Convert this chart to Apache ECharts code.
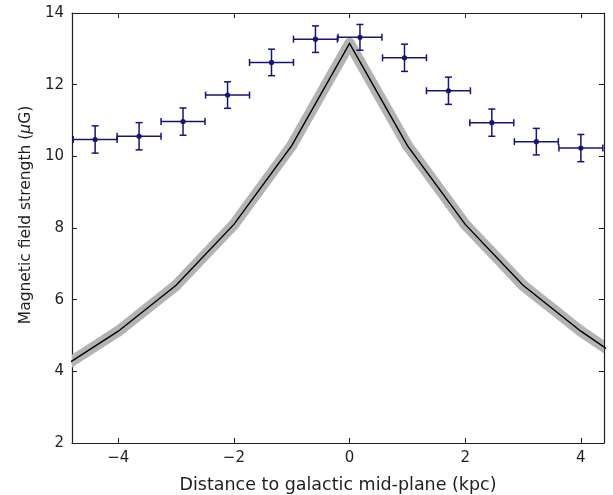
<!DOCTYPE html>
<html>
<head>
<meta charset="utf-8">
<script src="https://cdn.jsdelivr.net/npm/echarts@6/dist/echarts.min.js"></script>
<style>
html,body{margin:0;padding:0;background:#fff;}
#chart{width:613px;height:495px;}
</style>
</head>
<body>
<div id="chart"></div>
<script>
// Observations (blue error-bar points)
const obsX = [-4.40, -3.64, -2.88, -2.11, -1.35, -0.59, 0.18, 0.95, 1.71, 2.46, 3.23, 4.00];
const obsY = [10.47, 10.56, 10.97, 11.71, 12.62, 13.27, 13.32, 12.75, 11.83, 10.94, 10.41, 10.23];
const obsXErr = [0.38, 0.38, 0.38, 0.38, 0.38, 0.38, 0.38, 0.38, 0.38, 0.38, 0.38, 0.38];
const obsYErr = [0.38, 0.38, 0.38, 0.37, 0.37, 0.37, 0.36, 0.38, 0.38, 0.38, 0.37, 0.38];
// Model curve (black line with grey band)
const modelX = [-5, -4, -3, -2, -1, 0, 1, 2, 3, 4, 5];
const modelY = [4.08, 5.12, 6.40, 8.10, 10.30, 13.15, 10.30, 8.10, 6.40, 5.12, 4.02];
// Tick labels
const xTicks = [-4, -2, 0, 2, 4];
const yTicks = [2, 4, 6, 8, 10, 12, 14];

const FONT = 'DejaVu Sans';
const AXC = '#1e1e1e';
const ERRC = '#14147a';

const modelData = modelX.map((x, i) => [x, modelY[i]]);
const obsData = obsX.map((x, i) => [x, obsY[i], obsXErr[i], obsYErr[i]]);

function fmt(v) { return v < 0 ? '\u2212' + Math.abs(v) : String(v); }

const chart = echarts.init(document.getElementById('chart'), null, {renderer: 'canvas'});
chart.setOption({
  animation: false,
  backgroundColor: '#fff',
  grid: {left: 72, right: 9, top: 13, bottom: 52, containLabel: false, outerBoundsMode: 'none'},
  xAxis: [{
    type: 'value', min: -4.8, max: 4.4, position: 'bottom',
    axisLine: {show: true, onZero: false, lineStyle: {color: AXC, width: 1.2}},
    axisTick: {show: true, inside: true, length: 5, customValues: xTicks, lineStyle: {color: AXC}},
    axisLabel: {customValues: xTicks, formatter: fmt, fontFamily: FONT, fontSize: 15, color: AXC, margin: 8},
    splitLine: {show: false},
    name: 'Distance to galactic mid-plane (kpc)', nameLocation: 'middle', nameGap: 33,
    nameTextStyle: {fontFamily: FONT, fontSize: 17.5, color: AXC}
  }, {
    type: 'value', min: -4.8, max: 4.4, position: 'top',
    axisLine: {show: true, onZero: false, lineStyle: {color: AXC, width: 1.2}},
    axisTick: {show: true, inside: true, length: 5, customValues: xTicks, lineStyle: {color: AXC}},
    axisLabel: {show: false, customValues: xTicks},
    splitLine: {show: false}
  }],
  yAxis: [{
    type: 'value', min: 2, max: 14, interval: 2, position: 'left',
    axisLine: {show: true, onZero: false, lineStyle: {color: AXC, width: 1.2}},
    axisTick: {show: true, inside: true, length: 5, lineStyle: {color: AXC}},
    axisLabel: {formatter: fmt, fontFamily: FONT, fontSize: 15, color: AXC, margin: 8},
    splitLine: {show: false},
    name: 'Magnetic field strength ({i|\u03bc}G)', nameLocation: 'middle', nameGap: 36,
    nameTextStyle: {fontFamily: FONT, fontSize: 15.5, color: AXC, padding: [0, 0, 0, 26],
      rich: {i: {fontFamily: FONT, fontSize: 15.5, fontStyle: 'italic', color: AXC}}}
  }, {
    type: 'value', min: 2, max: 14, interval: 2, position: 'right',
    axisLine: {show: true, onZero: false, lineStyle: {color: AXC, width: 1.2}},
    axisTick: {show: true, inside: true, length: 5, lineStyle: {color: AXC}},
    axisLabel: {show: false},
    splitLine: {show: false}
  }],
  series: [{
    // grey uncertainty band: thick segments between consecutive model points
    type: 'custom', xAxisIndex: 0, yAxisIndex: 0, data: modelData, z: 1, clip: true, silent: true,
    encode: {x: 0, y: 1},
    renderItem: function (params, api) {
      const i = params.dataIndex;
      if (i >= modelData.length - 1) return null;
      const p = api.coord(modelData[i]);
      const q = api.coord(modelData[i + 1]);
      return {type: 'line', shape: {x1: p[0], y1: p[1], x2: q[0], y2: q[1]},
        style: {stroke: '#b3b3b3', lineWidth: 11, lineCap: 'round', fill: null}};
    }
  }, {
    type: 'line', xAxisIndex: 0, yAxisIndex: 0, data: modelData,
    symbol: 'none', silent: true, z: 2, clip: true,
    lineStyle: {color: '#000', width: 1.4, join: 'miter'}
  }, {
    type: 'custom', xAxisIndex: 0, yAxisIndex: 0, data: obsData, z: 3, clip: true,
    encode: {x: 0, y: 1},
    renderItem: function (params, api) {
      const x = api.value(0), y = api.value(1), xe = api.value(2), ye = api.value(3);
      const c = api.coord([x, y]);
      const l = api.coord([x - xe, y]);
      const r = api.coord([x + xe, y]);
      const b = api.coord([x, y - ye]);
      const t = api.coord([x, y + ye]);
      const cap = 3.5;
      const st = {stroke: ERRC, lineWidth: 1.5, fill: null};
      const line = (x1, y1, x2, y2) => ({type: 'line', shape: {x1, y1, x2, y2}, style: st});
      return {
        type: 'group',
        children: [
          line(l[0], l[1], r[0], r[1]),
          line(b[0], b[1], t[0], t[1]),
          line(l[0], l[1] - cap, l[0], l[1] + cap),
          line(r[0], r[1] - cap, r[0], r[1] + cap),
          line(t[0] - cap, t[1], t[0] + cap, t[1]),
          line(b[0] - cap, b[1], b[0] + cap, b[1]),
          {type: 'circle', shape: {cx: c[0], cy: c[1], r: 2.6}, style: {fill: ERRC, stroke: null}}
        ]
      };
    }
  }]
});
</script>
</body>
</html>
